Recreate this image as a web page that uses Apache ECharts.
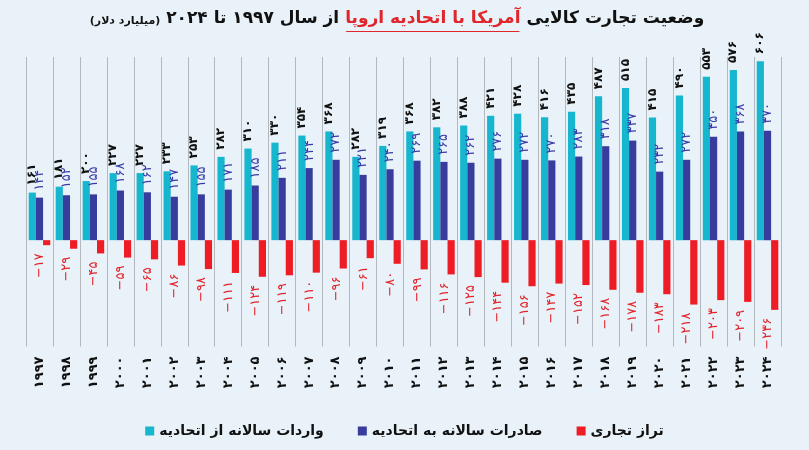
<!DOCTYPE html>
<html>
<head>
<meta charset="utf-8">
<script src="https://cdn.jsdelivr.net/npm/echarts@6/dist/echarts.min.js"></script>
<style>
html,body{margin:0;padding:0;background:#e8f2f8;}
#c{width:809px;height:450px;}
</style>
</head>
<body>
<div id="c"></div>
<script>
// ---- data ----
const years = ['1997','1998','1999','2000','2001','2002','2003','2004','2005','2006','2007','2008','2009','2010','2011','2012','2013','2014','2015','2016','2017','2018','2019','2020','2021','2022','2023','2024'];
const imports = [161,181,200,227,227,233,253,282,310,330,354,368,282,319,368,382,388,421,428,416,435,487,515,415,490,553,576,606];
const exportsEU = [144,152,155,168,162,147,155,171,185,211,244,272,221,240,269,265,262,276,272,270,283,318,337,232,272,350,368,370];
const balance = [-17,-29,-45,-59,-65,-86,-98,-111,-124,-119,-110,-96,-61,-80,-99,-116,-125,-144,-156,-147,-152,-168,-178,-183,-218,-203,-209,-236];
const seriesNames = ['واردات سالانه از اتحادیه','صادرات سالانه به اتحادیه','تراز تجاری'];
const titleParts = ['وضعیت تجارت کالایی', 'آمریکا با اتحادیه اروپا', 'از سال ۱۹۹۷ تا ۲۰۲۴', '(میلیارد دلار)'];

const FONT = "'DejaVu Sans', sans-serif";
const fa = v => String(v).replace(/\d/g, d => '۰۱۲۳۴۵۶۷۸۹'[d]);
const faNeg = v => (v < 0 ? '−' + fa(-v) : fa(v));

const chart = echarts.init(document.getElementById('c'), null, {renderer: 'canvas'});

// title layout (segments placed right-to-left)
const ctx = document.createElement('canvas').getContext('2d');
function w(text, size, weight) { ctx.font = weight + ' ' + size + 'px ' + FONT; return ctx.measureText(text).width; }
const tSize = 17, sSize = 11;
const segs = [
  {t: titleParts[0], s: tSize, c: '#111'},
  {t: titleParts[1], s: tSize, c: '#e0252b', u: true},
  {t: titleParts[2], s: tSize, c: '#111'},
  {t: titleParts[3], s: sSize, c: '#111'}
];
const gap = 6;
segs.forEach(s => s.w = w(s.t, s.s, 'bold'));
const total = segs.reduce((a, s) => a + s.w, 0) + gap * (segs.length - 1);
let xr = 397 + total / 2;
const graphics = [];
segs.forEach(s => {
  graphics.push({type: 'text', x: xr - s.w, y: s.s === tSize ? 19 : 21, style: {text: s.t, font: 'bold ' + s.s + 'px ' + FONT, fill: s.c, textVerticalAlign: 'middle', textAlign: 'left'}});
  if (s.u) graphics.push({type: 'line', shape: {x1: xr - s.w + 1, y1: 31.5, x2: xr - 1, y2: 31.5}, style: {stroke: '#e0252b', lineWidth: 1.2}});
  xr -= s.w + gap;
});

const baseLabel = {show: true, rotate: 90, verticalAlign: 'middle', fontFamily: FONT};

chart.setOption({
  backgroundColor: '#e8f2f8',
  animation: false,
  graphic: graphics,
  grid: {left: 26, right: 28, top: 57, bottom: 103.5},
  legend: {
    data: seriesNames, bottom: 7, left: 'center', itemWidth: 9, itemHeight: 9, itemGap: 34, icon: 'rect',
    textStyle: {fontFamily: FONT, fontSize: 14, fontWeight: 'bold', color: '#111'}
  },
  xAxis: {
    type: 'category', data: years,
    axisLine: {show: false, onZero: false}, axisTick: {show: false},
    splitLine: {show: true, lineStyle: {color: '#b3b8bd', width: 1}},
    axisLabel: {rotate: 90, margin: 10, fontFamily: FONT, fontSize: 13, fontWeight: 'bold', color: '#111', formatter: v => fa(v)}
  },
  yAxis: {type: 'value', show: false, min: -360, max: 620, splitLine: {show: false}},
  series: [
    {name: seriesNames[0], type: 'bar', data: imports, barGap: '0%', barCategoryGap: '20%',
     itemStyle: {color: '#17b6cf'},
     label: Object.assign({}, baseLabel, {position: 'top', align: 'left', distance: 7, fontSize: 12, fontWeight: 'bold', color: '#111', formatter: p => fa(p.value)})},
    {name: seriesNames[1], type: 'bar', data: exportsEU, barGap: '0%', barCategoryGap: '20%',
     itemStyle: {color: '#383c9c'},
     label: Object.assign({}, baseLabel, {position: 'top', align: 'left', distance: 7, fontSize: 13, color: '#3a3aa8', formatter: p => fa(p.value)})},
    {name: seriesNames[2], type: 'bar', data: balance, barGap: '0%', barCategoryGap: '20%',
     itemStyle: {color: '#ee1c25'},
     label: Object.assign({}, baseLabel, {position: 'bottom', align: 'right', distance: 8, offset: [0, -7], fontSize: 13, color: '#e3232a', formatter: p => faNeg(p.value)})}
  ]
});
</script>
</body>
</html>
